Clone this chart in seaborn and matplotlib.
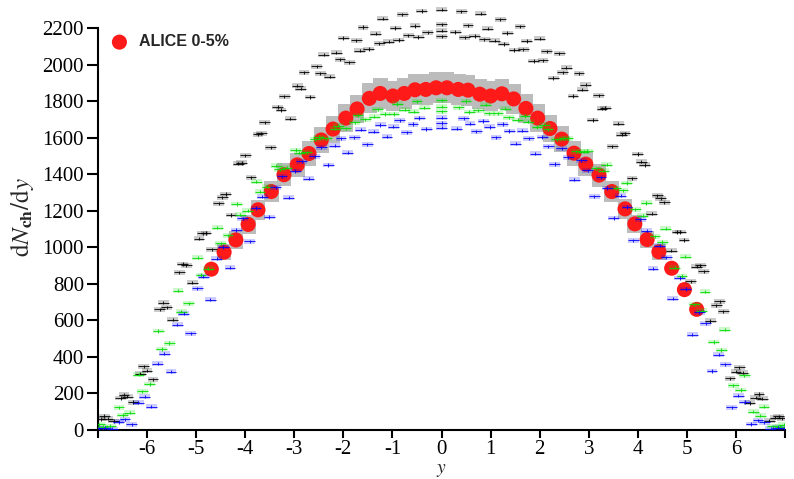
import matplotlib
matplotlib.use("Agg")
import matplotlib.pyplot as plt
import numpy as np
import pandas as pd
import seaborn as sns

# ALICE 0-5% data (dN/deta converted to dN/dy, so the y positions are uneven)
alice_y = [-4.69, -4.43, -4.19, -3.94, -3.74, -3.47, -3.21, -2.94, -2.70, -2.45,
           -2.21, -1.95, -1.72, -1.47, -1.25, -0.99, -0.76, -0.54, -0.32, -0.11,
           0.11, 0.34, 0.54, 0.78, 1.00, 1.23, 1.47, 1.72, 1.96, 2.21,
           2.45, 2.70, 2.94, 3.21, 3.47, 3.74, 3.94, 4.19, 4.43, 4.69,
           4.95, 5.20]
alice_dndy = [880, 973, 1040, 1125, 1205, 1305, 1397, 1451, 1513, 1587,
              1647, 1707, 1757, 1815, 1842, 1828, 1842, 1862, 1864, 1873,
              1873, 1864, 1860, 1838, 1828, 1840, 1812, 1760, 1707, 1650,
              1592, 1515, 1455, 1395, 1305, 1210, 1128, 1042, 975, 885,
              768, 660]
# systematic boxes only drawn for |y| < 4.5
alice_sys = [0, 44, 47, 50, 54, 58, 62, 65, 68, 71,
             74, 77, 79, 82, 83, 82, 83, 84, 84, 84,
             84, 84, 84, 83, 82, 83, 82, 79, 77, 74,
             71, 68, 65, 63, 58, 54, 51, 47, 44, 0,
             0, 0]

# model curves, bin centres in y
model_y = [-6.8, -6.4, -6.0, -5.6, -5.2, -4.8, -4.4, -4.0, -3.6, -3.2, -2.8, -2.4,
           -2.0, -1.6, -1.2, -0.8, -0.4, 0.0, 0.4, 0.8, 1.2, 1.6, 2.0, 2.4,
           2.8, 3.2, 3.6, 4.0, 4.4, 4.8, 5.2, 5.6, 6.0, 6.4, 6.8]

black_1 = [62, 181, 325, 672, 901, 1078, 1291, 1503, 1683, 1826, 1958, 2055,
           2146, 2205, 2252, 2275, 2294, 2300, 2292, 2279, 2247, 2210, 2141, 2062,
           1952, 1832, 1676, 1510, 1285, 1084, 894, 683, 318, 177, 66]
black_2 = [60, 175, 308, 660, 862, 1046, 1240, 1457, 1618, 1768, 1884, 1990,
           2066, 2133, 2169, 2200, 2212, 2220, 2214, 2196, 2173, 2129, 2072, 1984,
           1890, 1762, 1624, 1451, 1246, 1040, 869, 650, 314, 171, 63]
black_3 = [49, 152, 277, 603, 806, 988, 1177, 1383, 1547, 1703, 1822, 1933,
           2013, 2086, 2125, 2160, 2176, 2185, 2178, 2156, 2131, 2080, 2019, 1927,
           1828, 1697, 1553, 1377, 1183, 982, 814, 597, 283, 148, 51]
black_4 = [76, 192, 348, 697, 908, 1077, 1273, 1462, 1623, 1752, 1868, 1952,
           2029, 2077, 2117, 2135, 2151, 2155, 2149, 2139, 2113, 2083, 2023, 1958,
           1862, 1758, 1617, 1468, 1267, 1083, 902, 703, 342, 197, 74]

green_1 = [16, 82, 212, 443, 647, 848, 1022, 1178, 1305, 1426, 1517, 1603,
           1665, 1722, 1755, 1785, 1798, 1805, 1800, 1781, 1759, 1718, 1671, 1597,
           1523, 1420, 1311, 1172, 1028, 842, 653, 437, 218, 78, 18]
green_2 = [22, 95, 251, 475, 693, 882, 1065, 1201, 1331, 1436, 1519, 1596,
           1652, 1701, 1729, 1754, 1764, 1770, 1766, 1750, 1733, 1697, 1658, 1590,
           1525, 1432, 1325, 1207, 1059, 888, 687, 481, 245, 99, 20]
green_3 = [31, 123, 302, 542, 763, 942, 1108, 1237, 1358, 1447, 1533, 1591,
           1650, 1684, 1715, 1729, 1742, 1745, 1740, 1733, 1711, 1688, 1646, 1597,
           1527, 1453, 1352, 1243, 1102, 948, 757, 548, 298, 127, 29]

blue_1 = [11, 57, 182, 418, 637, 838, 1002, 1158, 1277, 1388, 1470, 1548,
          1597, 1643, 1670, 1695, 1707, 1710, 1705, 1691, 1674, 1639, 1603, 1542,
          1476, 1382, 1283, 1152, 1008, 832, 643, 412, 188, 53, 13]
blue_2 = [9, 44, 149, 363, 577, 775, 938, 1094, 1215, 1329, 1418, 1497,
          1556, 1601, 1633, 1661, 1674, 1680, 1676, 1659, 1637, 1597, 1552, 1493,
          1422, 1325, 1221, 1090, 944, 771, 583, 359, 153, 41, 8]
blue_3 = [5, 31, 127, 318, 528, 712, 888, 1032, 1166, 1272, 1375, 1450,
          1518, 1563, 1606, 1630, 1648, 1655, 1650, 1634, 1602, 1567, 1512, 1455,
          1370, 1278, 1160, 1038, 882, 718, 522, 323, 123, 33, 6]

# (colour, curves, dodge of each curve away from y = 0)
models = [
    ("#000000", [black_1, black_2, black_3, black_4], [0.0, 0.14, -0.12, 0.07]),
    ("#00dd00", [green_1, green_2, green_3], [0.1, -0.05, 0.17]),
    ("#0000ff", [blue_1, blue_2, blue_3], [0.05, 0.18, -0.09]),
]

sns.set_theme(style="ticks")
plt.rcParams["font.family"] = ["Liberation Serif", "DejaVu Serif"]
plt.rcParams["mathtext.fontset"] = "stix"

fig = plt.figure(figsize=(7.94, 4.79), dpi=100)
ax = fig.add_axes([0.1234, 0.1025, 0.8653, 0.8885])

alice = pd.DataFrame({"y": alice_y, "dndy": alice_dndy, "sys": alice_sys})
boxed = alice[alice["sys"] > 0]
ax.bar(boxed["y"], 2 * boxed["sys"], bottom=boxed["dndy"] - boxed["sys"],
       width=0.3, color="#bcbcbc", linewidth=0, zorder=1)
sns.scatterplot(data=alice, x="y", y="dndy", ax=ax, color="#ff1a1a", s=118,
                edgecolor="none", label="ALICE 0-5%", zorder=2)

ygrid = np.asarray(model_y)
for col, curves, dodges in models:
    for vals, d in zip(curves, dodges):
        v = np.asarray(vals, dtype=float)
        x = ygrid + d * np.sign(ygrid)
        ax.bar(x, 26, bottom=v - 13, width=0.22, color=col, alpha=0.2,
               linewidth=0, zorder=3)
        ax.errorbar(x, v, xerr=0.11, yerr=9, fmt="none", ecolor=col,
                    elinewidth=0.75, capsize=0, alpha=0.85, zorder=4)

ax.set_xlim(-7, 7)
ax.set_ylim(0, 2330)
ax.spines["left"].set_bounds(0, 2200)
for side in ("top", "right"):
    ax.spines[side].set_visible(False)
for side in ("left", "bottom"):
    ax.spines[side].set_linewidth(1.5)
    ax.spines[side].set_color("black")

ax.set_xticks(range(-7, 8))
ax.set_xticklabels(["" if abs(t) == 7 else str(t) for t in range(-7, 8)])
ax.set_yticks(range(0, 2201, 200))
ax.tick_params(axis="y", length=8, width=1.5, pad=2, labelsize=15, colors="black")
ax.tick_params(axis="x", length=6, width=1.5, pad=1.5, labelsize=15, colors="black")

ax.set_xlabel(r"$y$", fontsize=14)
ax.xaxis.set_label_coords(0.5, -0.076)
ax.set_ylabel(r"$\mathrm{d}N_{\mathbf{ch}}/\mathrm{d}y$", fontsize=18, labelpad=5)

leg = ax.legend(loc="upper left", bbox_to_anchor=(-0.006, 0.952), frameon=False,
                handletextpad=0.25, borderaxespad=0.2, markerscale=1.0,
                prop={"family": "Liberation Sans", "weight": "bold", "size": 11.5})

fig.savefig("out.png", dpi=100)
